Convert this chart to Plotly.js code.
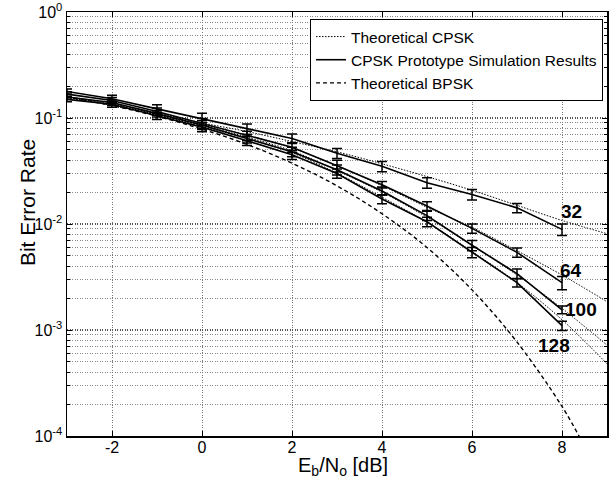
<!DOCTYPE html>
<html>
<head>
<meta charset="utf-8">
<script src="https://cdn.plot.ly/plotly-3.0.1.min.js"></script>
<style>html,body{margin:0;padding:0;background:#fff;}#chart{width:612px;height:481px;}</style>
</head>
<body>
<div id="chart"></div>
<script>
// Eb/No points of the simulations
const snrSim = [-3,-2,-1,0,1,2,3,4,5,6,7,8];
// Simulation results (solid + error bars)
const sim32  = [0.178,0.152,0.122,0.098,0.079,0.064,0.0465,0.035,0.0245,0.019,0.0142,0.0089];
const sim64  = [0.168,0.146,0.115,0.089,0.068,0.053,0.0355,0.0235,0.0148,0.0091,0.0054,0.0028];
const sim100 = [0.158,0.140,0.110,0.086,0.064,0.048,0.0325,0.0205,0.0120,0.0063,0.0034,0.00155];
const sim128 = [0.150,0.135,0.105,0.082,0.061,0.045,0.0300,0.0172,0.0105,0.0054,0.0028,0.00110];
const err32  = [0.010,0.012,0.011,0.013,0.009,0.0065,0.005,0.0039,0.0028,0.0022,0.0014,0.0011];
const err64  = [0.009,0.010,0.009,0.010,0.007,0.0055,0.0045,0.0017,0.0014,0.0009,0.00055,0.0004];
const err100 = [0.008,0.009,0.008,0.008,0.006,0.005,0.0035,0.0018,0.0012,0.0007,0.00036,0.00013];
const err128 = [0.008,0.009,0.008,0.008,0.006,0.0045,0.0030,0.0017,0.0011,0.0006,0.00026,0.00011];
// Theoretical CPSK (dotted)
const snrTh = [-3,-2,-1,0,1,2,3,4,5,6,7,8,9];
const th32  = [0.160,0.136,0.112,0.090,0.0745,0.060,0.048,0.037,0.028,0.0208,0.0150,0.0108,0.0081];
const th64  = [0.158,0.133,0.110,0.087,0.069,0.052,0.0356,0.023,0.0144,0.0093,0.0056,0.0033,0.00185];
const th100 = [0.157,0.132,0.108,0.085,0.066,0.049,0.0319,0.020,0.0116,0.0063,0.0033,0.0016,0.00072];
const th128 = [0.156,0.131,0.107,0.083,0.064,0.047,0.0301,0.0179,0.0104,0.0055,0.0028,0.00125,0.00048];
// Theoretical BPSK (dashed)
const snrB = [-3,-2,-1,0,1,2,3,4,5,6,7,8,8.45];
const bpsk = [0.158,0.131,0.104,0.0786,0.0563,0.0375,0.0229,0.0125,0.006,0.00239,0.00077,0.00019,0.0000875];
// Axis ticks
const yTickVals = [1e-4, 1e-3, 1e-2, 1e-1, 1];
const yTickText = ['10<sup>-4</sup>','10<sup>-3</sup>','10<sup>-2</sup>','10<sup>-1</sup>','10<sup>0</sup>'];
const xTickVals = [-2, 0, 2, 4, 6, 8];
const xTickText = ['-2','0','2','4','6','8'];
// Curve labels
const labelText = ['32','64','100','128'];
const labelX = [8.2, 8.2, 8.42, 7.83];
const labelY = [0.013, 0.00368, 0.00155, 0.00072];

const FONT = 'Liberation Sans, Arial, Helvetica, sans-serif';
const traces = [];
const thAll = [th32, th64, th100, th128];
const simAll = [sim32, sim64, sim100, sim128];
const errAll = [err32, err64, err100, err128];

thAll.forEach((t, i) => traces.push({
  x: snrTh, y: t, type: 'scatter', mode: 'lines',
  line: {color: '#000', width: 1, dash: '1.5px,1.5px', shape: 'spline'},
  name: 'Theoretical CPSK', showlegend: i === 0
}));
simAll.forEach((s, i) => traces.push({
  x: snrSim, y: s, type: 'scatter', mode: 'lines',
  line: {color: '#000', width: 1.6},
  error_y: {type: 'data', array: errAll[i], visible: true, color: '#000', thickness: 1.5, width: 5},
  name: 'CPSK Prototype Simulation Results', showlegend: i === 0
}));
traces.push({
  x: snrB, y: bpsk, type: 'scatter', mode: 'lines',
  line: {color: '#000', width: 1.4, dash: '4px,3px', shape: 'spline'},
  name: 'Theoretical BPSK', showlegend: true
});

const annotations = labelText.map((t, i) => ({
  x: labelX[i], y: Math.log10(labelY[i]), xref: 'x', yref: 'y', text: '<b>' + t + '</b>',
  showarrow: false, font: {family: FONT, size: 19, color: '#000'}
}));
annotations.push({
  x: -0.074, y: 0.5495, xref: 'paper', yref: 'paper', text: 'Bit Error Rate',
  textangle: -90, showarrow: false, xanchor: 'center', yanchor: 'middle',
  font: {family: FONT, size: 21, color: '#000'}
});
annotations.push({
  x: 0.511, y: -0.0715, xref: 'paper', yref: 'paper', text: 'E<sub>b</sub>/N<sub>o</sub> [dB]',
  showarrow: false, xanchor: 'center', yanchor: 'middle',
  font: {family: FONT, size: 20, color: '#000'}
});

const gridDot = '1px,1.5px';
const layout = {
  width: 612, height: 481,
  margin: {l: 67, r: 5, t: 12, b: 45},
  paper_bgcolor: '#fff', plot_bgcolor: '#fff',
  font: {family: FONT, size: 16, color: '#000'},
  xaxis: {
    range: [-3, 9], tickmode: 'array', tickvals: xTickVals, ticktext: xTickText,
    showline: true, linecolor: '#000', linewidth: 1.5, mirror: 'ticks',
    ticks: 'inside', ticklen: 5, tickcolor: '#000', ticklabelstandoff: -4,
    showgrid: true, gridcolor: '#777', griddash: gridDot, gridwidth: 1,
    zeroline: false,
    tickfont: {family: FONT, size: 16}
  },
  yaxis: {
    type: 'log', range: [-4, 0], tickmode: 'array', tickvals: yTickVals, ticktext: yTickText,
    showline: true, linecolor: '#000', linewidth: 1.5, mirror: 'ticks',
    ticks: 'inside', ticklen: 5, tickcolor: '#000',
    showgrid: true, gridcolor: '#555', griddash: gridDot, gridwidth: 1.3,
    zeroline: false,
    tickfont: {family: FONT, size: 16},
    minor: {dtick: 'D1', ticks: 'inside', ticklen: 3, tickcolor: '#000',
            showgrid: true, gridcolor: '#888', griddash: gridDot, gridwidth: 1}
  },
  legend: {
    x: 0.9926, xanchor: 'right', y: 0.9835, yanchor: 'top',
    bgcolor: '#fff', bordercolor: '#000', borderwidth: 1,
    font: {family: FONT, size: 15.5, color: '#000'},
    itemwidth: 30, tracegroupgap: 0, traceorder: 'normal'
  },
  annotations: annotations,
  showlegend: true
};

Plotly.newPlot('chart', traces, layout, {staticPlot: true, displayModeBar: false});
</script>
</body>
</html>
